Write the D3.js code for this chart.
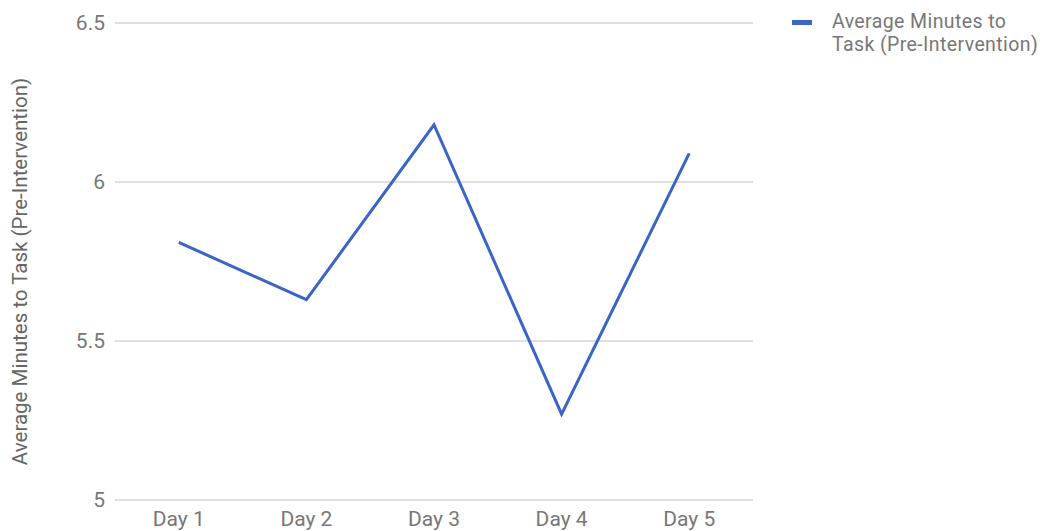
<!DOCTYPE html>
<html>
<head>
<meta charset="utf-8">
<script src="https://cdn.jsdelivr.net/npm/d3@7"></script>
<style>
  html, body { margin: 0; padding: 0; background: #fff; }
  svg { display: block; }
  text { font-family: Roboto, "Noto Sans", Arial, sans-serif; }
</style>
</head>
<body>
<svg id="chart" width="1060" height="531"></svg>
<script>
// Average minutes to task per day, before the intervention
const days = ["Day 1", "Day 2", "Day 3", "Day 4", "Day 5"];
const minutes = [5.81, 5.63, 6.18, 5.27, 6.09];
const yTicks = [5, 5.5, 6, 6.5];
const seriesName = "Average Minutes to Task (Pre-Intervention)";
const legendLines = ["Average Minutes to", "Task (Pre-Intervention)"];

const svg = d3.select("#chart");
const plot = { left: 115, right: 753, top: 23, bottom: 500 };

const x = d3.scaleBand().domain(days).range([plot.left, plot.right]);
const y = d3.scaleLinear().domain([5, 6.5]).range([plot.bottom, plot.top]);

// horizontal gridlines
svg.append("g")
  .selectAll("line")
  .data(yTicks)
  .join("line")
  .attr("x1", plot.left).attr("x2", plot.right)
  .attr("y1", d => y(d)).attr("y2", d => y(d))
  .attr("stroke", "#d6d6d6").attr("stroke-width", 1.3);

// y axis labels
const yAxis = svg.append("g")
  .attr("transform", `translate(${plot.left},0)`)
  .call(d3.axisLeft(y).tickValues(yTicks).tickSize(0).tickPadding(10).tickFormat(d3.format("~g")));
yAxis.select(".domain").remove();
yAxis.selectAll("text").attr("fill", "#777").style("font-size", "21px");

// x axis labels
const xAxis = svg.append("g")
  .attr("transform", `translate(0,${plot.bottom})`)
  .call(d3.axisBottom(x).tickSize(0).tickPadding(11));
xAxis.select(".domain").remove();
xAxis.selectAll("text").attr("fill", "#777").style("font-size", "21px");

// y axis title
svg.append("text")
  .attr("transform", `translate(27,${(plot.top + plot.bottom) / 2 + 10}) rotate(-90)`)
  .attr("text-anchor", "middle")
  .attr("fill", "#666")
  .style("font-size", "20.5px")
  .text(seriesName);

// series line
const line = d3.line()
  .x((d, i) => x(days[i]) + x.bandwidth() / 2)
  .y(d => y(d));
svg.append("path")
  .datum(minutes)
  .attr("d", line)
  .attr("fill", "none")
  .attr("stroke", "#3a64c6")
  .attr("stroke-width", 3)
  .attr("stroke-linejoin", "miter");

// legend: swatch plus a two-line label
const legend = svg.append("g");
legend.append("rect")
  .attr("x", 792).attr("y", 20).attr("width", 20).attr("height", 5)
  .attr("fill", "#3a64c6");
legend.selectAll("text")
  .data(legendLines)
  .join("text")
  .attr("x", 832)
  .attr("y", (d, i) => 28 + i * 22.5)
  .attr("fill", "#777")
  .style("font-size", "19.5px")
  .style("letter-spacing", "0.4px")
  .text(d => d);
</script>
</body>
</html>
